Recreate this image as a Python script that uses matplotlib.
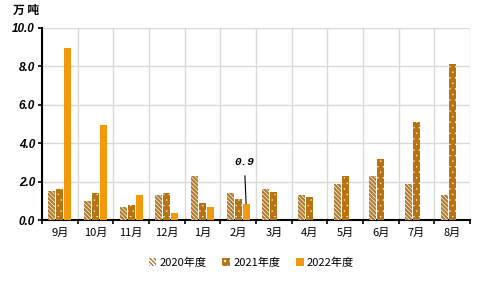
import matplotlib
matplotlib.use("Agg")
import matplotlib.pyplot as plt
import numpy as np
from matplotlib.patches import Patch

plt.rcParams["font.family"] = ["Noto Sans CJK SC", "DejaVu Sans"]

months = ["9月", "10月", "11月", "12月", "1月", "2月", "3月", "4月", "5月", "6月", "7月", "8月"]
y2020 = [1.5, 1.0, 0.7, 1.3, 2.3, 1.4, 1.6, 1.3, 1.9, 2.3, 1.9, 1.3]
y2021 = [1.6, 1.4, 0.8, 1.4, 0.9, 1.1, 1.45, 1.2, 2.3, 3.2, 5.1, 8.1]
y2022 = [8.95, 4.97, 1.3, 0.38, 0.68, 0.85, np.nan, np.nan, np.nan, np.nan, np.nan, np.nan]
series_names = ["2020年度", "2021年度", "2022年度"]

c2020 = "#b07a2a"
c2021 = "#b8720f"
c2022 = "#f2990c"
hatch2020 = "\\" * 8
hatch2021 = "..."

fig = plt.figure(figsize=(4.88, 2.85), dpi=100)
ax = fig.add_axes([0.086, 0.228, 0.877, 0.674])

x = np.arange(len(months))
off, w = 0.224, 0.196
with plt.rc_context({"hatch.linewidth": 1.6}):
    ax.bar(x - off, y2020, w, facecolor="white", edgecolor=c2020, hatch=hatch2020, linewidth=0, zorder=3)
    h20 = Patch(facecolor="white", edgecolor=c2020, hatch=hatch2020, linewidth=0)
with plt.rc_context({"hatch.linewidth": 0.2}):
    ax.bar(x, y2021, w, facecolor=c2021, edgecolor="white", hatch=hatch2021, linewidth=0, zorder=3)
    h21 = Patch(facecolor=c2021, edgecolor="white", hatch=hatch2021, linewidth=0)
ax.bar(x + off, y2022, w, facecolor=c2022, edgecolor=c2022, linewidth=0, zorder=3)
h22 = Patch(facecolor=c2022, edgecolor=c2022, linewidth=0)

ax.annotate("0.9", xy=(5 + off, y2022[5]), xytext=(5 + off - 0.05, 3.0),
            ha="center", va="center", fontsize=8, fontweight="bold", fontstyle="italic",
            family="Liberation Mono",
            arrowprops=dict(arrowstyle="-", color="black", lw=0.8, shrinkA=4, shrinkB=0))

ax.set_xlim(-0.5, len(months) - 0.5)
ax.set_ylim(0, 10)
ax.set_yticks(np.arange(0, 10.1, 2))
ax.set_yticklabels([f"{v:.1f}" for v in np.arange(0, 10.1, 2)],
                   family="Liberation Sans", fontweight="bold", fontstyle="italic", fontsize=8.5)
ax.set_xticks(x)
ax.set_xticklabels(months, fontsize=8)
ax.set_xticks(np.arange(-0.5, len(months)), minor=True)
ax.tick_params(axis="x", which="major", length=0, pad=6)
ax.tick_params(axis="x", which="minor", length=3, width=1.2, direction="out")
ax.tick_params(axis="y", length=3, width=1.2, direction="out", pad=2)

ax.grid(axis="y", which="major", color="#d9d9d9", lw=1.0, zorder=0)
ax.grid(axis="x", which="minor", color="#d9d9d9", lw=1.0, zorder=0)
ax.grid(axis="x", which="major", visible=False)
for s in ["top", "right"]:
    ax.spines[s].set_visible(False)
ax.spines["left"].set_linewidth(1.5)
ax.spines["bottom"].set_linewidth(1.5)

fig.text(0.027, 0.962, "万 吨", fontsize=8.5, fontweight="bold", fontstyle="italic", va="center")

fig.legend([h20, h21, h22], series_names, loc="center", bbox_to_anchor=(0.515, 0.077), ncol=3,
           frameon=False, fontsize=8, handlelength=0.7, handleheight=0.7,
           handletextpad=0.3, columnspacing=1.4)

fig.savefig("out.png", dpi=100)
